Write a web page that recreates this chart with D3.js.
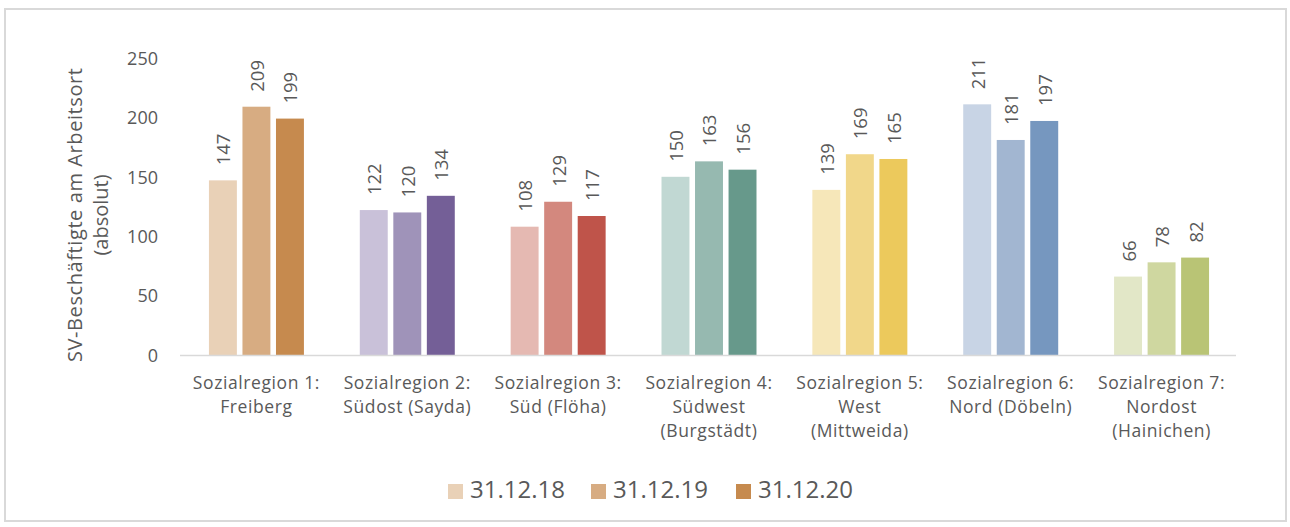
<!DOCTYPE html>
<html><head><meta charset="utf-8">
<script src="https://cdn.jsdelivr.net/npm/d3@7"></script>
<style>
html,body{margin:0;padding:0;background:#fff;}
text{font-family:"Open Sans",sans-serif;fill:#595959;}
</style></head>
<body><svg id="c" width="1290" height="527"></svg>
<script>
const categories = [
  ["Sozialregion 1:", "Freiberg"],
  ["Sozialregion 2:", "Südost (Sayda)"],
  ["Sozialregion 3:", "Süd (Flöha)"],
  ["Sozialregion 4:", "Südwest", "(Burgstädt)"],
  ["Sozialregion 5:", "West", "(Mittweida)"],
  ["Sozialregion 6:", "Nord (Döbeln)"],
  ["Sozialregion 7:", "Nordost", "(Hainichen)"]
];
const seriesNames = ["31.12.18", "31.12.19", "31.12.20"];
const values2018 = [147, 122, 108, 150, 139, 211, 66];
const values2019 = [209, 120, 129, 163, 169, 181, 78];
const values2020 = [199, 134, 117, 156, 165, 197, 82];
const yTicks = [0, 50, 100, 150, 200, 250];
const groupColors = [
  ["#e9d1b7", "#d7ac82", "#c68a4e"],
  ["#c9c1d9", "#9f93b9", "#745f97"],
  ["#e5b9b2", "#d3887e", "#bf544a"],
  ["#c1d8d3", "#96b9b0", "#67998b"],
  ["#f6e7b9", "#f1d78a", "#ecc95c"],
  ["#c8d4e5", "#a2b6d1", "#7697bf"],
  ["#e2e7c7", "#cfd7a0", "#b9c475"]
];
const yTitle = ["SV-Beschäftigte am Arbeitsort", "(absolut)"];

(function(){
const svg = d3.select("#c");
svg.append("rect").attr("x",5).attr("y",9).attr("width",1281).attr("height",512)
  .attr("fill","#fff").attr("stroke","#d9d9d9").attr("stroke-width",2);

const pLeft = 181, pRight = 1237, pTop = 58, pBottom = 355;
const series = [values2018, values2019, values2020];
const catIdx = categories.map((d,i)=>i);

const x0 = d3.scaleBand().domain(catIdx).range([pLeft, pRight]).paddingInner(0).paddingOuter(0);
const bw = x0.bandwidth();
const x1 = d3.scaleBand().domain([0,1,2]).range([bw/5.4, bw*4.4/5.4]).paddingInner(1/6).paddingOuter(0);
const y = d3.scaleLinear().domain([0,250]).range([pBottom, pTop]);

// y axis
const yAxis = svg.append("g").attr("transform",`translate(${158},0)`)
  .call(d3.axisLeft(y).tickValues(yTicks).tickSize(0).tickPadding(0));
yAxis.select(".domain").remove();
yAxis.selectAll("text").attr("font-size",18).attr("fill","#595959").attr("dy","0.35em")
  .style("font-family","'Open Sans',sans-serif");

// bars
const groups = svg.append("g").selectAll("g").data(catIdx).join("g")
  .attr("transform", i=>`translate(${x0(i)},0)`);
groups.selectAll("rect").data(i=>series.map((s,k)=>({i,k,v:s[i]}))).join("rect")
  .attr("x", d=>x1(d.k)).attr("width", x1.bandwidth())
  .attr("y", d=>y(d.v)).attr("height", d=>y(0)-y(d.v))
  .attr("fill", d=>groupColors[d.i][d.k]);
groups.selectAll("text.lab").data(i=>series.map((s,k)=>({i,k,v:s[i]}))).join("text")
  .attr("class","lab")
  .attr("transform", d=>`translate(${x1(d.k)+x1.bandwidth()/2+1},${y(d.v)-15}) rotate(-90)`)
  .attr("dy","0.35em").attr("font-size",18.5).attr("text-anchor","start")
  .text(d=>d.v);

// x axis line
svg.append("line").attr("x1",pLeft-1).attr("x2",pRight-1).attr("y1",pBottom+0.5).attr("y2",pBottom+0.5)
  .attr("stroke","#d9d9d9").attr("stroke-width",1.5);

// category labels
svg.append("g").selectAll("text").data(catIdx).join("text")
  .attr("text-anchor","middle").attr("font-size",17.5).attr("letter-spacing","0.6px")
  .each(function(i){
    const t = d3.select(this);
    categories[i].forEach((line,j)=>{
      t.append("tspan").attr("x", x0(i)+bw/2).attr("y", 389 + j*24).text(line);
    });
  });

// y title
yTitle.forEach((line,j)=>{
  const t = svg.append("text").attr("transform",`translate(${82+j*26},215) rotate(-90)`)
    .attr("text-anchor","middle").attr("font-size",20).text(line);
  if (j === 0) t.attr("textLength", 294).attr("lengthAdjust","spacing");
});

// legend
const legX = [448, 591, 736];
const leg = svg.append("g").selectAll("g").data(seriesNames).join("g");
leg.append("rect").attr("x",(d,i)=>legX[i]).attr("y",484).attr("width",15).attr("height",15)
  .attr("fill",(d,i)=>groupColors[0][i]);
leg.append("text").attr("x",(d,i)=>legX[i]+22).attr("y",498).attr("font-size",24).text(d=>d);
})();
</script></body></html>
